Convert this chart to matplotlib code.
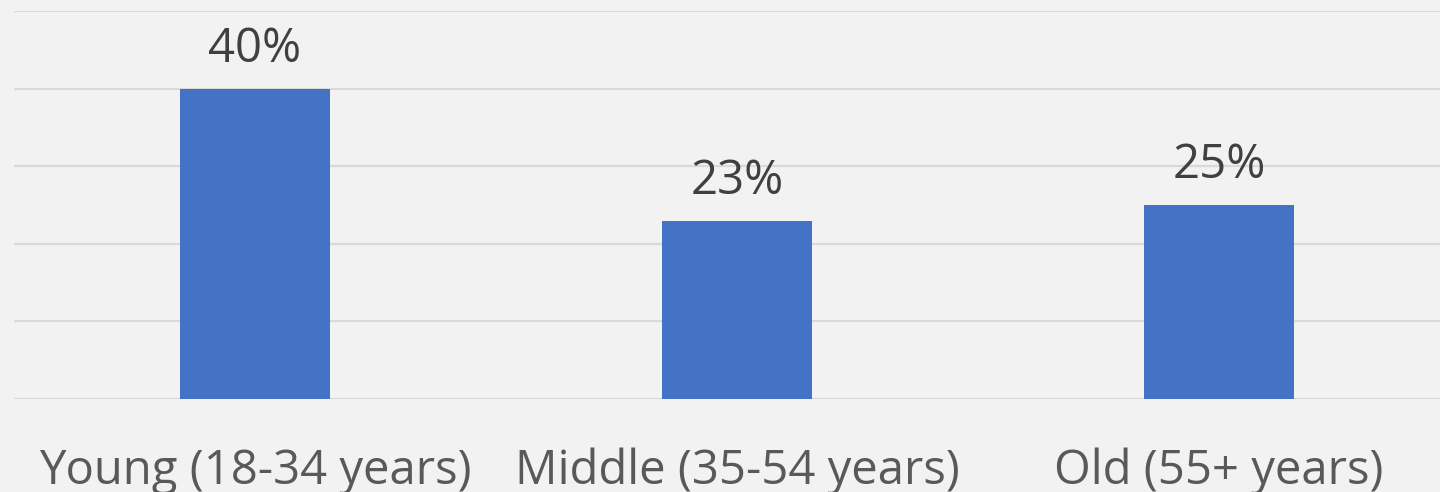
import matplotlib
matplotlib.use("Agg")
import matplotlib.pyplot as plt

categories = ["Young (18-34 years)", "Middle (35-54 years)", "Old (55+ years)"]
shares = [40, 23, 25]
value_labels = ["40%", "23%", "25%"]

plt.rcParams["font.family"] = ["Open Sans", "DejaVu Sans"]

W, H, DPI = 1440, 492, 100
fig = plt.figure(figsize=(W / DPI, H / DPI), dpi=DPI, facecolor="#f2f2f2")
ax = fig.add_axes([14 / W, (H - 399) / H, 1446 / W, 388 / H])
ax.set_facecolor("#f2f2f2")

x = list(range(len(categories)))
ax.bar(x, shares, width=0.313, color="#4472c4", zorder=3)

for xi, v, lab in zip(x, shares, value_labels):
    ax.annotate(lab, (xi, v), xytext=(0, 16), textcoords="offset pixels",
                ha="center", va="bottom", fontsize=34, color="#404040")

ax.set_xlim(-0.5, len(categories) - 0.5)
ax.set_ylim(0, 50)
ax.set_yticks(range(0, 51, 10))
ax.yaxis.grid(True, color="#d9d9d9", linewidth=1.6, zorder=0)
ax.tick_params(axis="y", left=False, labelleft=False)
ax.set_xticks(x)
ax.set_xticklabels(categories, fontsize=34, color="#595959")
ax.tick_params(axis="x", length=0, pad=35)
for s in ax.spines.values():
    s.set_visible(False)

fig.savefig("out.png", dpi=DPI, facecolor=fig.get_facecolor())
